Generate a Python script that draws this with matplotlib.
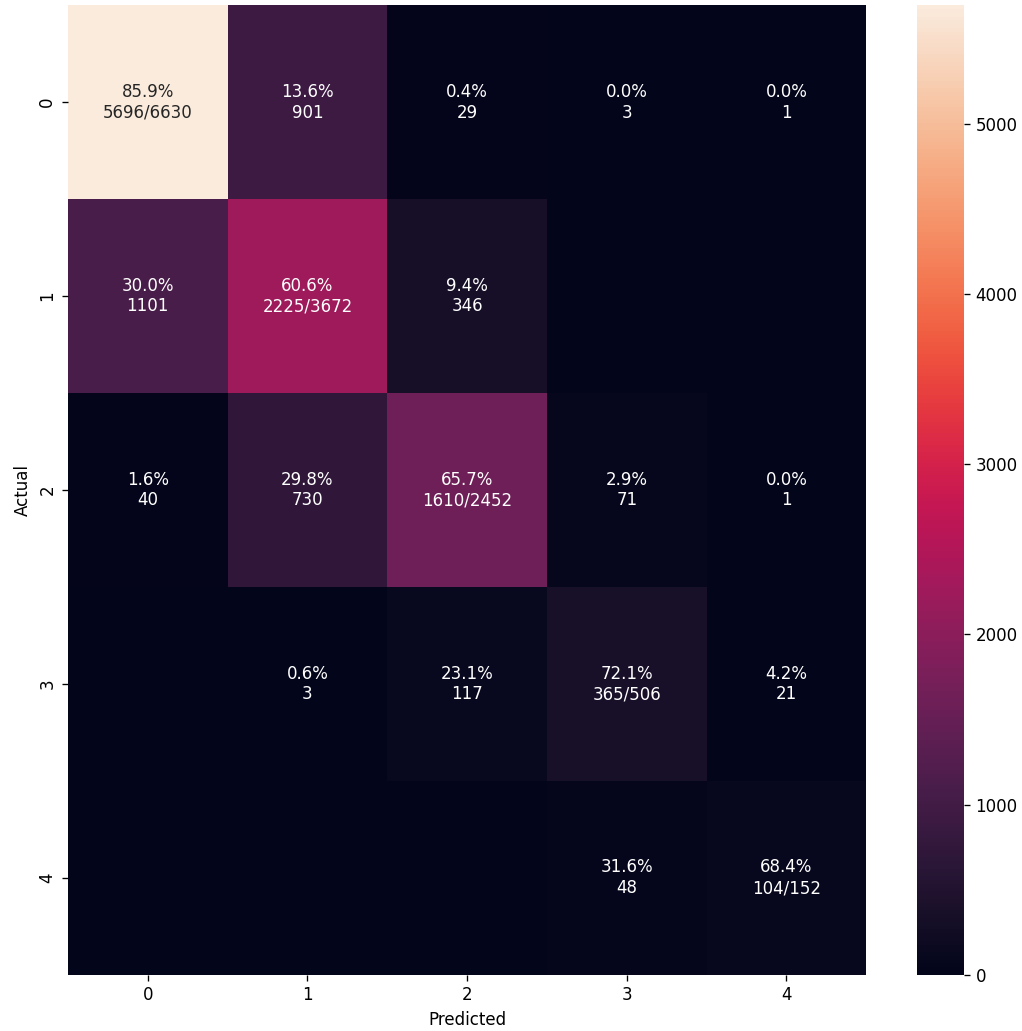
import matplotlib
matplotlib.use("Agg")
import matplotlib.pyplot as plt
import numpy as np
import seaborn as sns

classes = ["0", "1", "2", "3", "4"]
row0 = [5696, 901, 29, 3, 1]
row1 = [1101, 2225, 346, 0, 0]
row2 = [40, 730, 1610, 71, 1]
row3 = [0, 3, 117, 365, 21]
row4 = [0, 0, 0, 48, 104]

cm = np.array([row0, row1, row2, row3, row4])
row_sums = cm.sum(axis=1)
cm_perc = cm / row_sums[:, None] * 100

# percentage per row plus raw count, diagonal shows count/total
annot = np.empty_like(cm, dtype=object)
n = len(classes)
for i in range(n):
    for j in range(n):
        c = cm[i, j]
        p = cm_perc[i, j]
        if i == j:
            annot[i, j] = '%.1f%%\n%d/%d' % (p, c, row_sums[i])
        elif c == 0:
            annot[i, j] = ''
        else:
            annot[i, j] = '%.1f%%\n%d' % (p, c)

dpi = 120
fig = plt.figure(figsize=(1022 / dpi, 1031 / dpi), dpi=dpi)
ax = fig.add_axes([0.0665, 0.0545, 0.781, 0.9405])
cax = fig.add_axes([0.897, 0.0545, 0.046, 0.9405])
sns.heatmap(cm, annot=annot, fmt='', ax=ax, cbar_ax=cax,
            xticklabels=classes, yticklabels=classes)
ax.set_xlabel('Predicted')
ax.set_ylabel('Actual')

fig.savefig('out.png', dpi=dpi)
